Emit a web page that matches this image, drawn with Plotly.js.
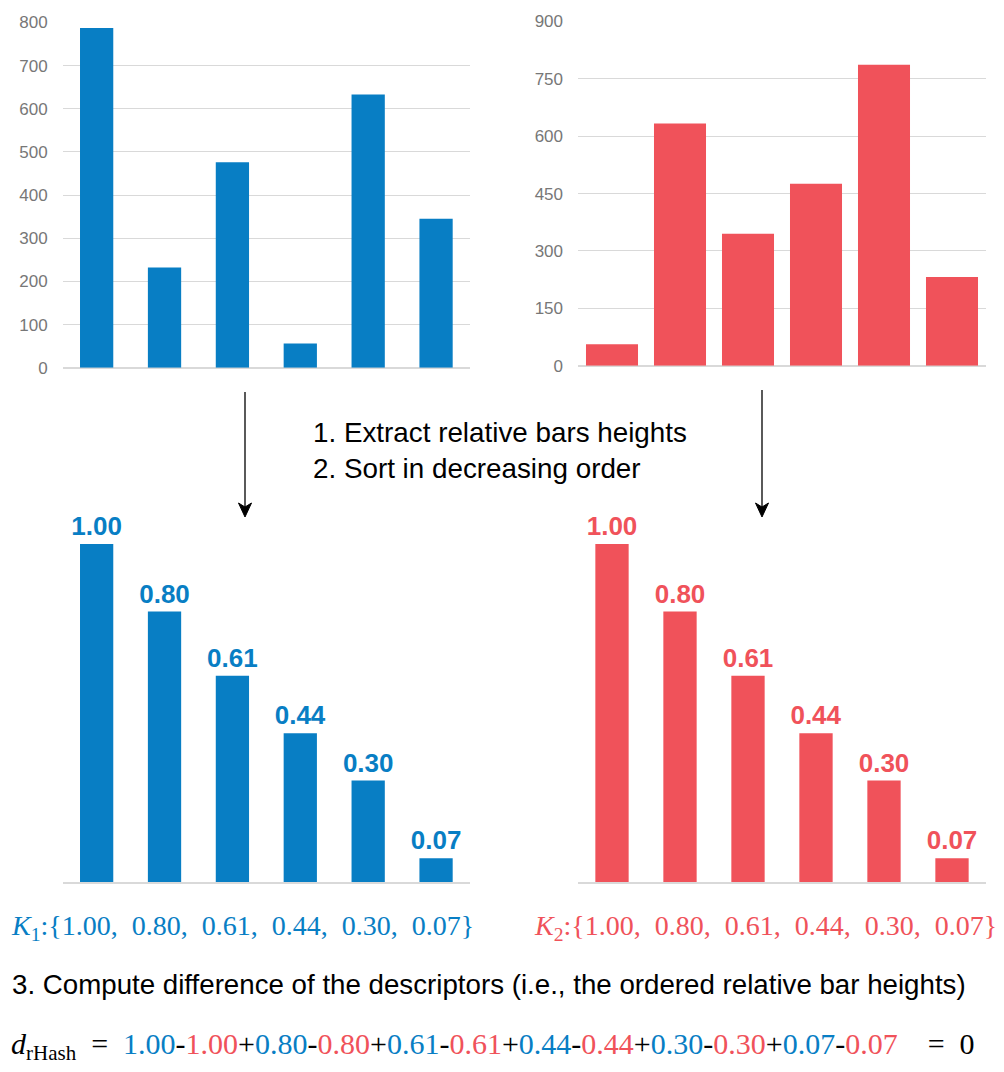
<!DOCTYPE html>
<html>
<head>
<meta charset="utf-8">
<script src="https://cdn.plot.ly/plotly-3.0.1.min.js"></script>
<style>html,body{margin:0;padding:0;background:#fff;}#chart{width:1004px;height:1072px;}</style>
</head>
<body>
<div id="chart"></div>
<script>
// ---- data ----
const categories = ['1', '2', '3', '4', '5', '6'];
const chart1Values = [787, 232, 476, 56, 633, 345];
const chart2Values = [56, 633, 345, 476, 787, 232];
const relativeSorted1 = [1.00, 0.80, 0.61, 0.44, 0.30, 0.07];
const relativeSorted2 = [1.00, 0.80, 0.61, 0.44, 0.30, 0.07];
const chart1Ticks = [0, 100, 200, 300, 400, 500, 600, 700, 800];
const chart2Ticks = [0, 150, 300, 450, 600, 750, 900];
const step12Text = ['1. Extract relative bars heights', '2. Sort in decreasing order'];
const step3Text = '3. Compute difference of the descriptors (i.e., the ordered relative bar heights)';

// ---- style ----
const BLUE = '#087ec4';
const RED = '#f0525a';
const W = 1004, H = 1072;
const px = v => v / W;
const py = v => 1 - v / H;

function fmt(v) { return v.toFixed(2); }

const labelFont = c => ({family: 'Liberation Sans, Arial, sans-serif', size: 26, color: c, weight: 'bold'});

const traces = [
  {type: 'bar', x: categories, y: chart1Values, xaxis: 'x', yaxis: 'y',
   marker: {color: BLUE}, width: 0.49, hoverinfo: 'skip'},
  {type: 'bar', x: categories, y: chart2Values, xaxis: 'x2', yaxis: 'y2',
   marker: {color: RED}, width: 0.765, hoverinfo: 'skip'},
  {type: 'bar', x: categories, y: relativeSorted1, xaxis: 'x3', yaxis: 'y3',
   marker: {color: BLUE}, width: 0.49, hoverinfo: 'skip',
   text: relativeSorted1.map(fmt), textposition: 'outside', cliponaxis: false, constraintext: 'none',
   textfont: labelFont(BLUE)},
  {type: 'bar', x: categories, y: relativeSorted2, xaxis: 'x4', yaxis: 'y4',
   marker: {color: RED}, width: 0.49, hoverinfo: 'skip',
   text: relativeSorted2.map(fmt), textposition: 'outside', cliponaxis: false, constraintext: 'none',
   textfont: labelFont(RED)}
];

const tickFont = {family: 'Liberation Sans, Arial, sans-serif', size: 17, color: '#777777'};

function catAxis(domain, anchor) {
  return {domain: domain, anchor: anchor, type: 'category', showticklabels: false,
          ticks: '', showgrid: false, zeroline: false, showline: false, fixedrange: true};
}

// arrow: vertical line + stealth head, in pixel coords converted to paper
function arrowShapes(x, y0, y1) {
  const hl = 14, hw = 6.5, back = 10;
  return [
    {type: 'line', xref: 'paper', yref: 'paper', x0: px(x), x1: px(x), y0: py(y0), y1: py(y1 - 6),
     line: {color: '#000', width: 1.3}},
    {type: 'path', xref: 'paper', yref: 'paper',
     path: 'M' + px(x) + ',' + py(y1) +
           ' L' + px(x - hw) + ',' + py(y1 - hl) +
           ' L' + px(x) + ',' + py(y1 - back) +
           ' L' + px(x + hw) + ',' + py(y1 - hl) + ' Z',
     fillcolor: '#000', line: {color: '#000', width: 1}}
  ];
}

const layout = {
  width: W, height: H,
  margin: {l: 0, r: 0, t: 0, b: 0},
  paper_bgcolor: '#ffffff', plot_bgcolor: 'rgba(0,0,0,0)',
  showlegend: false,
  xaxis: catAxis([px(62.7), px(470)], 'y'),
  yaxis: {domain: [py(367.7), py(22.3)], anchor: 'x', range: [0, 800.5],
          tickvals: chart1Ticks, ticktext: chart1Ticks.map(String), tickfont: tickFont,
          showgrid: true, gridcolor: '#d9d9d9', gridwidth: 1,
          zeroline: true, zerolinecolor: '#d9d9d9', zerolinewidth: 2,
          ticks: '', ticklabelstandoff: 14, showline: false, fixedrange: true},
  xaxis2: catAxis([px(578), px(986)], 'y2'),
  yaxis2: {domain: [py(365.7), py(21.3)], anchor: 'x2', range: [0, 900.5],
          tickvals: chart2Ticks, ticktext: chart2Ticks.map(String), tickfont: tickFont,
          showgrid: true, gridcolor: '#d9d9d9', gridwidth: 1,
          zeroline: true, zerolinecolor: '#d9d9d9', zerolinewidth: 2,
          ticks: '', ticklabelstandoff: 14, showline: false, fixedrange: true},
  xaxis3: Object.assign(catAxis([px(62.7), px(470)], 'y3'), {showline: true, linecolor: '#d9d9d9', linewidth: 2}),
  yaxis3: {domain: [py(882), py(544)], anchor: 'x3', range: [0, 1], visible: false, fixedrange: true},
  xaxis4: Object.assign(catAxis([px(578), px(986)], 'y4'), {showline: true, linecolor: '#d9d9d9', linewidth: 2}),
  yaxis4: {domain: [py(882), py(544)], anchor: 'x4', range: [0, 1], visible: false, fixedrange: true},
  shapes: [].concat(arrowShapes(245, 392, 517), arrowShapes(762, 390, 517)),
  annotations: [
    // step 1-2 text
    {xref: 'paper', yref: 'paper', x: px(311), y: py(451), xanchor: 'left', yanchor: 'middle',
     align: 'left', showarrow: false, text: step12Text.join('<br>'),
     font: {family: 'Liberation Sans, Arial, sans-serif', size: 27.8, color: '#000'}},
    // K1 and K2
    {xref: 'paper', yref: 'paper', x: px(9), y: py(928), xanchor: 'left', yanchor: 'middle',
     showarrow: false,
     text: '<i>K</i><sub>1</sub>:{' + relativeSorted1.map(fmt).join(',&#160; ') + '}',
     font: {family: 'Liberation Serif, Times New Roman, serif', size: 28, color: BLUE}},
    {xref: 'paper', yref: 'paper', x: px(532), y: py(928), xanchor: 'left', yanchor: 'middle',
     showarrow: false,
     text: '<i>K</i><sub>2</sub>:{' + relativeSorted2.map(fmt).join(',&#160; ') + '}',
     font: {family: 'Liberation Serif, Times New Roman, serif', size: 28, color: RED}},
    // step 3
    {xref: 'paper', yref: 'paper', x: px(10), y: py(984), xanchor: 'left', yanchor: 'middle',
     showarrow: false, text: step3Text,
     font: {family: 'Liberation Sans, Arial, sans-serif', size: 27.7, color: '#000'}},
    // d_rHash formula
    {xref: 'paper', yref: 'paper', x: px(9), y: py(1046), xanchor: 'left', yanchor: 'middle',
     showarrow: false,
     text: '<i>d</i><sub>rHash</sub>&#160; =&#160; ' + relativeSorted1.map((v, i) =>
        '<span style="color:' + BLUE + '">' + fmt(v) + '</span>-' +
        '<span style="color:' + RED + '">' + fmt(relativeSorted2[i]) + '</span>'
       ).join('+') + '&#160;&#160;&#160; =&#160; 0',
     font: {family: 'Liberation Serif, Times New Roman, serif', size: 30, color: '#000'}}
  ]
};

Plotly.newPlot('chart', traces, layout, {staticPlot: true, displayModeBar: false});
</script>
</body>
</html>
